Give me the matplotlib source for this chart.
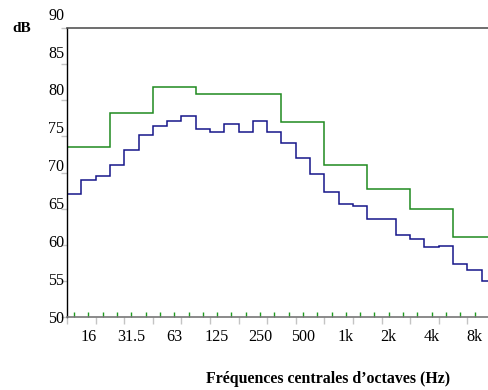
import numpy as np
import matplotlib
matplotlib.use("Agg")
import matplotlib.pyplot as plt
from matplotlib.transforms import blended_transform_factory

# niveaux par bande d'octave (vert) et par tiers d'octave (bleu), en dB
octaves = ["16", "31.5", "63", "125", "250", "500", "1k", "2k", "4k", "8k"]
niveaux_octave = [73.6, 78.2, 81.9, 80.9, 80.9, 77.0, 71.0, 67.7, 64.9, 61.1]
niveaux_tiers = [67.0, 69.0, 69.55, 71.0, 73.1, 75.25, 76.5, 77.2, 77.85, 76.1,
                 75.65, 76.7, 75.65, 77.2, 75.65, 74.15, 72.0, 69.85, 67.3, 65.6,
                 65.3, 63.5, 63.5, 61.4, 60.8, 59.6, 59.8, 57.3, 56.5, 55.0]
graduations_db = [50, 55, 60, 65, 70, 75, 80, 85, 90]

plt.rcParams["font.family"] = ["Liberation Serif", "DejaVu Serif"]

fig = plt.figure(figsize=(4.89, 3.9), dpi=100)
ax = fig.add_axes([67 / 489, 73.3 / 390, 429 / 489, 288.4 / 390])

n_tiers = len(niveaux_tiers)
bords_tiers = np.arange(n_tiers + 1)
bords_oct = np.arange(0, n_tiers + 1, 3)

ax.stairs(niveaux_octave, bords_oct, baseline=None, color="#1f8a1f", lw=1.1)
ax.stairs(niveaux_tiers, bords_tiers, baseline=None, color="#16168a", lw=1.1)

ax.set_xlim(0, n_tiers)
ax.set_ylim(50, 90)

# axes
ax.spines["right"].set_visible(False)
ax.spines["left"].set_color("black")
ax.spines["left"].set_linewidth(1.0)
ax.spines["top"].set_color("#555555")
ax.spines["top"].set_linewidth(1.2)
ax.spines["bottom"].set_color("#777777")
ax.spines["bottom"].set_linewidth(1.2)

# abscisses : libellés au centre des octaves, petits traits gris tous les 2 tiers
ax.set_xticks(bords_oct[:-1] + 1.5)
ax.set_xticklabels(octaves, fontsize=11.6)
ax.tick_params(axis="x", which="major", length=0, pad=9)
ax.set_xticks(np.arange(0, n_tiers + 1, 2), minor=True)
ax.tick_params(axis="x", which="minor", length=5, width=1, color="#c4c4c4", direction="out")

# traits verts au centre de chaque tiers d'octave
ax.plot(bords_tiers[:-1] + 0.5, [50] * n_tiers, ls="none", marker=2, ms=3.5,
        mew=1, color="#1f9a1f", clip_on=False)

# ordonnées : graduations grises, libellés placés à part
ax.set_yticks(graduations_db)
ax.set_yticklabels([])
ax.tick_params(axis="y", length=4, width=1, color="#c4c4c4", direction="out")
trans = blended_transform_factory(ax.transAxes, ax.transData)
for v in graduations_db:
    y_lab = 50 + (v - 50) * 1.0513 - 0.3
    ax.text(-0.006, y_lab, str(v), transform=trans, ha="right", va="center",
            fontsize=11.6, clip_on=False)

fig.text(12 / 489, 1 - 29 / 390, "dB", fontsize=11, fontweight="bold",
         ha="left", va="center")
fig.text(328.5 / 489, 1 - 379 / 390, "Fréquences centrales d\u2019octaves (Hz)",
         fontsize=11.4, fontweight="bold", ha="center", va="center")

fig.savefig("out.png", dpi=100)
